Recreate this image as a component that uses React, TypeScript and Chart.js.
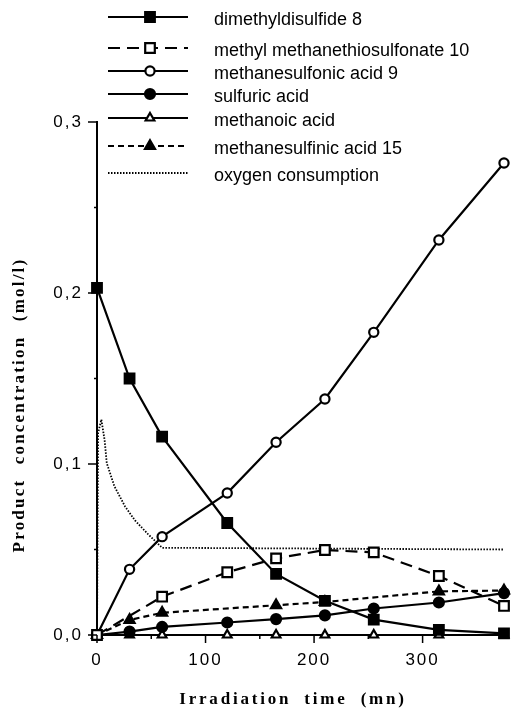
import React, { useEffect, useRef } from 'react';
import { Chart, registerables } from 'chart.js';
import { drawPoint } from 'chart.js/helpers';

Chart.register(...registerables);

// ---------- data ----------
const times = [0, 30, 60, 120, 165, 210, 255, 315, 375];
const dimethyldisulfide = [0.203, 0.15, 0.116, 0.0655, 0.0357, 0.02, 0.009, 0.003, 0.001];
const methylMethanethiosulfonate = [0, null, 0.0224, 0.0367, 0.0448, 0.0497, 0.0483, 0.0345, 0.017];
const methanesulfonicAcid = [0, 0.0384, 0.0575, 0.083, 0.1127, 0.138, 0.177, 0.231, 0.276];
const sulfuricAcid = [0, 0.002, 0.0047, 0.0073, 0.0093, 0.0115, 0.0155, 0.019, 0.0245];
const methanoicAcid = [0, 0, 0, 0, 0, 0, 0, 0, 0];
const methanesulfinicAcid = [0, 0.0088, 0.013, null, 0.0174, 0.0193, null, 0.0255, 0.026];
const oxygenTimes = [0, 1, 4, 7, 9, 16, 26, 35, 47, 60, 375];
const oxygenConsumption = [0, 0.118, 0.126, 0.114, 0.1005, 0.087, 0.075, 0.067, 0.059, 0.051, 0.05];

const seriesLabels = [
  'dimethyldisulfide 8',
  'methyl methanethiosulfonate 10',
  'methanesulfonic acid 9',
  'sulfuric acid',
  'methanoic acid',
  'methanesulfinic acid 15',
  'oxygen consumption',
];

const xTickValues = [0, 100, 200, 300];
const xTickLabels = ['0', '100', '200', '300'];
const yTickValues = [0, 0.1, 0.2, 0.3];
const yTickLabels = ['0,0', '0,1', '0,2', '0,3'];

const xTitle = 'Irradiation time (mn)';
const yTitle = 'Product concentration (mol/l)';

// ---------- layout / style (not data) ----------
const legendRowY = [17, 48, 71, 94, 118, 146, 173];
const legendLineX0 = 108;
const legendLineX1 = 188;
const legendMarkerX = 150;
const legendTextX = 214;
const SANS = '"Liberation Sans", Arial, Helvetica, sans-serif';
const SERIF = '"Liberation Serif", "Times New Roman", Times, serif';

function toPoints(xs: number[], ys: (number | null)[]) {
  const out: { x: number; y: number }[] = [];
  xs.forEach((x, i) => {
    const y = ys[i];
    if (y !== null && y !== undefined) out.push({ x, y });
  });
  return out;
}

function labelFor(values: number[], labels: string[], v: number) {
  const idx = values.findIndex((t) => Math.abs(t - v) < 1e-9);
  return idx >= 0 ? labels[idx] : '';
}

const decorPlugin = {
  id: 'decor',
  beforeDraw(chart: any) {
    (chart.ctx as any).letterSpacing = '2px';
  },
  beforeDatasetsDraw(chart: any) {
    (chart.ctx as any).letterSpacing = '0px';
  },
  afterDraw(chart: any) {
    const ctx = chart.ctx as CanvasRenderingContext2D & { letterSpacing: string; wordSpacing: string };
    const xs = chart.scales.x;
    const ys = chart.scales.y;
    ctx.save();
    ctx.letterSpacing = '0px';
    ctx.strokeStyle = '#000';
    ctx.lineWidth = 1.5;
    ctx.setLineDash([]);
    // x tick marks
    xs.ticks.forEach((t: any) => {
      const px = xs.getPixelForValue(t.value);
      const major = labelFor(xTickValues, xTickLabels, t.value) !== '';
      const len = major ? 8 : 4;
      ctx.beginPath();
      ctx.moveTo(px, ys.bottom);
      ctx.lineTo(px, ys.bottom + len);
      ctx.stroke();
    });
    // y tick marks
    ys.ticks.forEach((t: any) => {
      const py = ys.getPixelForValue(t.value);
      const major = labelFor(yTickValues, yTickLabels, t.value) !== '';
      const len = major ? 9 : 3;
      ctx.beginPath();
      ctx.moveTo(xs.left, py);
      ctx.lineTo(xs.left - len, py);
      ctx.stroke();
    });

    // axis titles
    ctx.fillStyle = '#000';
    ctx.font = `bold 17px ${SERIF}`;
    ctx.textAlign = 'center';
    ctx.textBaseline = 'middle';
    ctx.letterSpacing = '2.8px';
    ctx.wordSpacing = '6px';
    ctx.fillText(xTitle, 293, 700);
    ctx.save();
    ctx.translate(20, 405);
    ctx.rotate(-Math.PI / 2);
    ctx.letterSpacing = '2.2px';
    ctx.wordSpacing = '8px';
    ctx.font = `bold 17px ${SERIF}`;
    ctx.fillText(yTitle, 0, 0);
    ctx.restore();
    ctx.letterSpacing = '0px';
    ctx.wordSpacing = '0px';

    // legend
    chart.data.datasets.forEach((ds: any, i: number) => {
      const ly = legendRowY[i];
      ctx.save();
      ctx.strokeStyle = '#000';
      ctx.lineWidth = ds.borderWidth;
      ctx.setLineDash(ds.borderDash || []);
      ctx.beginPath();
      ctx.moveTo(legendLineX0, ly);
      ctx.lineTo(legendLineX1, ly);
      ctx.stroke();
      ctx.restore();
      if (ds.pointRadius > 0) {
        ctx.save();
        ctx.setLineDash([]);
        ctx.fillStyle = ds.pointBackgroundColor;
        ctx.strokeStyle = ds.pointBorderColor;
        ctx.lineWidth = ds.pointBorderWidth;
        drawPoint(ctx, { pointStyle: ds.pointStyle, radius: ds.pointRadius, rotation: 0, borderWidth: ds.pointBorderWidth } as any, legendMarkerX, ly);
        ctx.restore();
      }
      ctx.save();
      ctx.fillStyle = '#000';
      ctx.font = `18px ${SANS}`;
      ctx.textAlign = 'left';
      ctx.textBaseline = 'middle';
      ctx.fillText(seriesLabels[i], legendTextX, ly + 3);
      ctx.restore();
    });
    ctx.restore();
  },
};

export default function App() {
  const ref = useRef<HTMLCanvasElement | null>(null);

  useEffect(() => {
    document.body.style.margin = '0';
    const canvas = ref.current;
    if (!canvas) return;

    const base = {
      borderColor: '#000',
      borderWidth: 2.2,
      pointBorderColor: '#000',
      pointBorderWidth: 2.2,
      pointHoverRadius: 0,
      tension: 0,
      fill: false,
      clip: false,
      spanGaps: true,
    };

    const datasets: any[] = [
      {
        ...base,
        label: seriesLabels[0],
        data: toPoints(times, dimethyldisulfide),
        pointStyle: 'rect',
        pointRadius: 6.8,
        pointBackgroundColor: '#000',
      },
      {
        ...base,
        label: seriesLabels[1],
        data: toPoints(times, methylMethanethiosulfonate),
        borderDash: [12, 7],
        pointStyle: 'rect',
        pointRadius: 6.8,
        pointBackgroundColor: '#fff',
      },
      {
        ...base,
        label: seriesLabels[2],
        data: toPoints(times, methanesulfonicAcid),
        pointStyle: 'circle',
        pointRadius: 4.6,
        pointBackgroundColor: '#fff',
      },
      {
        ...base,
        label: seriesLabels[3],
        data: toPoints(times, sulfuricAcid),
        pointStyle: 'circle',
        pointRadius: 5,
        pointBackgroundColor: '#000',
      },
      {
        ...base,
        label: seriesLabels[4],
        data: toPoints(times, methanoicAcid),
        pointStyle: 'triangle',
        pointRadius: 5,
        pointBackgroundColor: '#fff',
      },
      {
        ...base,
        label: seriesLabels[5],
        data: toPoints(times, methanesulfinicAcid),
        borderDash: [6, 4],
        pointStyle: 'triangle',
        pointRadius: 5.8,
        pointBackgroundColor: '#000',
      },
      {
        ...base,
        label: seriesLabels[6],
        data: toPoints(oxygenTimes, oxygenConsumption),
        borderWidth: 1.8,
        borderDash: [1.5, 1.5],
        pointRadius: 0,
        pointBackgroundColor: '#000',
      },
    ];

    const chart = new Chart(canvas, {
      type: 'line',
      data: { datasets },
      options: {
        animation: false,
        responsive: false,
        devicePixelRatio: 1,
        layout: { padding: { top: 122, right: 6, left: 0, bottom: 0 } },
        plugins: { legend: { display: false }, tooltip: { enabled: false } },
        scales: {
          x: {
            type: 'linear',
            min: 0,
            max: 375,
            afterFit: (s: any) => {
              s.height = 75;
            },
            grid: { display: true, drawOnChartArea: false, drawTicks: true, tickLength: 8, tickColor: 'rgba(0,0,0,0)' },
            border: { display: true, color: '#000', width: 2 },
            ticks: {
              stepSize: 50,
              autoSkip: false,
              maxRotation: 0,
              padding: 7,
              color: '#000',
              font: { family: SANS, size: 17 },
              callback: (v: any) => labelFor(xTickValues, xTickLabels, Number(v)),
            },
          },
          y: {
            type: 'linear',
            min: 0,
            max: 0.3,
            afterFit: (s: any) => {
              s.width = 97;
            },
            grid: { display: true, drawOnChartArea: false, drawTicks: true, tickLength: 8, tickColor: 'rgba(0,0,0,0)' },
            border: { display: true, color: '#000', width: 2 },
            ticks: {
              stepSize: 0.05,
              autoSkip: false,
              padding: 6,
              color: '#000',
              font: { family: SANS, size: 17 },
              callback: (v: any) => labelFor(yTickValues, yTickLabels, Number(v)),
            },
          },
        },
      },
      plugins: [decorPlugin],
    });

    return () => chart.destroy();
  }, []);

  return (
    <div style={{ position: 'absolute', left: 0, top: 0, width: 513, height: 710, background: '#fff' }}>
      <canvas ref={ref} width={513} height={710} style={{ display: 'block', width: 513, height: 710 }} />
    </div>
  );
}
